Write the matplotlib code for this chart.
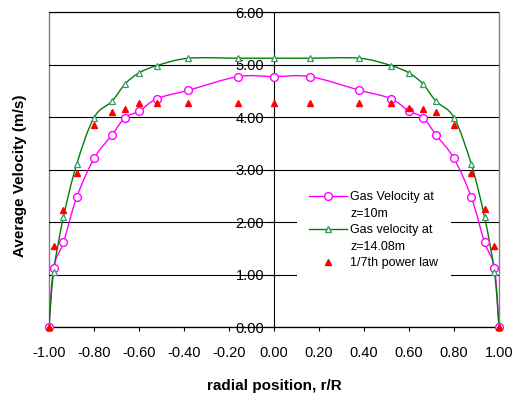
import numpy as np
import matplotlib
matplotlib.use("Agg")
import matplotlib.pyplot as plt
from matplotlib.path import Path
from matplotlib.patches import PathPatch
from matplotlib.lines import Line2D

plt.rcParams['font.family'] = ['Liberation Sans', 'DejaVu Sans']
plt.rcParams['axes.unicode_minus'] = False

# radial positions (r/R) shared by all three series
r = [-1.0, -0.98, -0.936, -0.877, -0.80, -0.72, -0.662, -0.60, -0.52, -0.38, -0.16, 0.0,
     0.16, 0.38, 0.52, 0.60, 0.662, 0.72, 0.80, 0.877, 0.936, 0.98, 1.0]
gas_z10 = [0.0, 1.12, 1.61, 2.47, 3.21, 3.66, 3.99, 4.11, 4.35, 4.51, 4.77, 4.77,
           4.77, 4.51, 4.35, 4.11, 3.99, 3.66, 3.21, 2.47, 1.61, 1.12, 0.0]
gas_z14 = [0.0, 1.04, 2.09, 3.10, 3.99, 4.30, 4.63, 4.84, 4.98, 5.12, 5.12, 5.12,
           5.12, 5.12, 4.98, 4.84, 4.63, 4.30, 3.99, 3.10, 2.09, 1.04, 0.0]
power_law = [0.0, 1.55, 2.23, 2.94, 3.84, 4.10, 4.16, 4.27, 4.27, 4.27, 4.27, 4.27,
             4.27, 4.27, 4.27, 4.18, 4.15, 4.10, 3.84, 2.94, 2.24, 1.55, 0.0]

labels = ["Gas Velocity at", "z=10m", "Gas velocity at", "z=14.08m", "1/7th power law"]
x_ticks = [-1.0, -0.8, -0.6, -0.4, -0.2, 0.0, 0.2, 0.4, 0.6, 0.8, 1.0]
y_ticks = [0, 1, 2, 3, 4, 5, 6]


def smooth_path(xs, ys):
    # Excel-style smoothed line: cubic Bezier segments (Catmull-Rom tangents)
    p = np.column_stack([xs, ys])
    n = len(p)
    verts = [p[0]]
    codes = [Path.MOVETO]
    for i in range(n - 1):
        p0 = p[i - 1] if i > 0 else p[i]
        p3 = p[i + 2] if i + 2 < n else p[i + 1]
        c1 = p[i] + (p[i + 1] - p0) / 6.0
        c2 = p[i + 1] - (p3 - p[i]) / 6.0
        verts += [c1, c2, p[i + 1]]
        codes += [Path.CURVE4] * 3
    return Path(verts, codes)


fig = plt.figure(figsize=(5.18, 3.94), dpi=100)
ax = fig.add_axes([0.0946, 0.170, 0.8687, 0.7995])

ax.set_xlim(-1, 1)
ax.set_ylim(0, 6)

pink = "#FF00FF"
green = "#008000"
green_mk = "#339966"
red = "#FF0000"

ax.add_patch(PathPatch(smooth_path(r, gas_z10), fill=False, edgecolor=pink, lw=1.0, zorder=3))
ax.plot(r, gas_z10, ls='none', marker='o', ms=5.6, mfc='white', mec=pink, mew=1.0,
        zorder=4, clip_on=False)
ax.add_patch(PathPatch(smooth_path(r, gas_z14), fill=False, edgecolor=green, lw=1.0, zorder=3))
ax.plot(r, gas_z14, ls='none', marker='^', ms=4.8, mfc='white', mec=green_mk, mew=0.9,
        zorder=4, clip_on=False)
ax.plot(r, power_law, ls='none', marker='^', ms=4.6, color=red, zorder=5, clip_on=False)

# frame and grid
ax.patch.set_edgecolor('#808080')
ax.patch.set_linewidth(1.0)
for s in ['top', 'right']:
    ax.spines[s].set_visible(False)
ax.spines['left'].set_position(('data', 0))
ax.spines['left'].set_color('black')
ax.spines['bottom'].set_color('black')
ax.spines['left'].set_zorder(2.5)
ax.yaxis.grid(True, color='black', lw=0.8)
ax.set_axisbelow(True)

ax.set_xticks(x_ticks)
ax.set_xticklabels([f"{v:.2f}" for v in x_ticks])
ax.set_yticks(y_ticks)
ax.set_yticklabels([f"{v:.2f}" for v in y_ticks])
ax.tick_params(axis='x', direction='out', length=3, width=0.8, pad=11, labelsize=10.5)
ax.tick_params(axis='y', direction='out', length=3, width=0.8, pad=4, labelsize=10.5)

ax.set_xlabel("radial position, r/R", fontsize=11, fontweight='bold', labelpad=13)
ax.set_ylabel("Average Velocity (m/s)", fontsize=11, fontweight='bold')
ax.yaxis.set_label_coords(-0.048, 0.48)

handles = [
    Line2D([], [], color=pink, lw=1.0, marker='o', ms=5.6, mfc='white', mec=pink),
    Line2D([], [], ls='none'),
    Line2D([], [], color=green, lw=1.0, marker='^', ms=4.8, mfc='white', mec=green_mk),
    Line2D([], [], ls='none'),
    Line2D([], [], ls='none', marker='^', ms=4.6, color=red),
]
leg = ax.legend(handles, labels, loc='upper left', bbox_to_anchor=(0.551, 0.470),
                frameon=True, fancybox=False, facecolor='white', edgecolor='none',
                framealpha=1.0, handlelength=3.0, handletextpad=0.25,
                labelspacing=0.36, borderpad=1.0, borderaxespad=0.0,
                prop={'size': 9})

fig.savefig("out.png", dpi=100)
